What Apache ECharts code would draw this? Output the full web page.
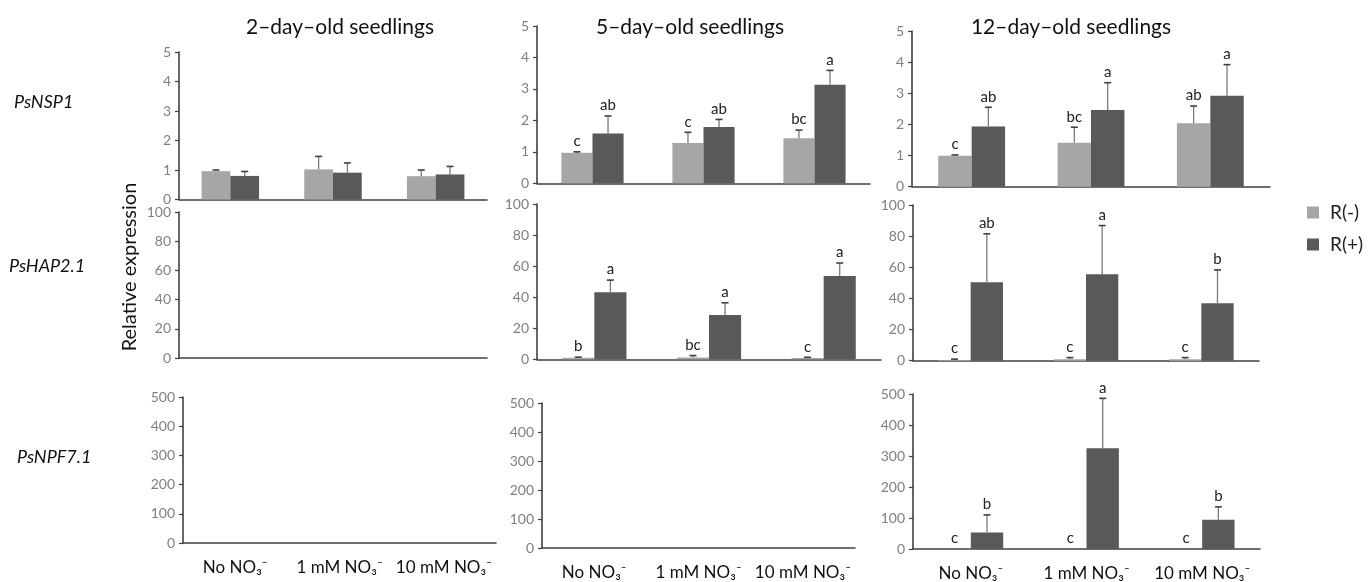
<!DOCTYPE html>
<html>
<head>
<meta charset="utf-8">
<script src="https://cdn.jsdelivr.net/npm/echarts@6/dist/echarts.min.js"></script>
<style>
  html, body { margin: 0; padding: 0; background: #fff; }
  #chart { width: 1369px; height: 582px; }
</style>
</head>
<body>
<div id="chart"></div>
<script>
// categories and legend
const categories = ['No NO₃⁻', '1 mM NO₃⁻', '10 mM NO₃⁻']
const seriesNames = ['R(-)', 'R(+)']
const ages = ['2–day–old seedlings', '5–day–old seedlings', '12–day–old seedlings']
const genes = ['PsNSP1', 'PsHAP2.1', 'PsNPF7.1']

// PsNSP1
const nsp1D2Neg = [0.96, 1.02, 0.79]
const nsp1D2NegErr = [0.04, 0.44, 0.21]
const nsp1D2Pos = [0.80, 0.91, 0.85]
const nsp1D2PosErr = [0.15, 0.33, 0.27]

const nsp1D5Neg = [0.97, 1.28, 1.43]
const nsp1D5NegErr = [0.03, 0.34, 0.26]
const nsp1D5Pos = [1.58, 1.79, 3.13]
const nsp1D5PosErr = [0.56, 0.24, 0.46]
const nsp1D5NegLetters = ['c', 'c', 'bc']
const nsp1D5PosLetters = ['ab', 'ab', 'a']

const nsp1D12Neg = [0.99, 1.41, 2.04]
const nsp1D12NegErr = [0.03, 0.50, 0.55]
const nsp1D12Pos = [1.93, 2.46, 2.92]
const nsp1D12PosErr = [0.62, 0.88, 1.0]
const nsp1D12NegLetters = ['c', 'bc', 'ab']
const nsp1D12PosLetters = ['ab', 'a', 'a']

// PsHAP2.1
const hapD5Neg = [1, 1.2, 0.9]
const hapD5NegErr = [0.4, 1.2, 0.4]
const hapD5Pos = [43.1, 28.5, 53.6]
const hapD5PosErr = [7.9, 7.9, 8.4]
const hapD5NegLetters = ['b', 'bc', 'c']
const hapD5PosLetters = ['a', 'a', 'a']

const hapD12Neg = [0.5, 1, 1]
const hapD12NegErr = [0.5, 1, 1]
const hapD12Pos = [50.4, 55.6, 36.9]
const hapD12PosErr = [31.1, 31.2, 21.4]
const hapD12NegLetters = ['c', 'c', 'c']
const hapD12PosLetters = ['ab', 'a', 'b']

// PsNPF7.1
const npfD12Neg = [0, 0, 0]
const npfD12NegErr = [0, 0, 0]
const npfD12Pos = [53.5, 325, 94.3]
const npfD12PosErr = [56.5, 161, 41.7]
const npfD12NegLetters = ['c', 'c', 'c']
const npfD12PosLetters = ['b', 'a', 'b']

const FONT = 'Lato, "Open Sans", sans-serif'
const GAP = 0.44
const AXIS_COLOR = '#404040'
const NEG_COLOR = '#a6a6a6'
const POS_COLOR = '#595959'

// one entry per panel: rect = [left, top, width, height]
const panels = [
  { rect: [179, 52, 308, 147.5], max: 5, interval: 1, neg: nsp1D2Neg, negErr: nsp1D2NegErr, pos: nsp1D2Pos, posErr: nsp1D2PosErr },
  { rect: [537, 26, 333, 157.3], max: 5, interval: 1, neg: nsp1D5Neg, negErr: nsp1D5NegErr, pos: nsp1D5Pos, posErr: nsp1D5PosErr, negLetters: nsp1D5NegLetters, posLetters: nsp1D5PosLetters },
  { rect: [912, 31, 358, 155.7], max: 5, interval: 1, neg: nsp1D12Neg, negErr: nsp1D12NegErr, pos: nsp1D12Pos, posErr: nsp1D12PosErr, negLetters: nsp1D12NegLetters, posLetters: nsp1D12PosLetters },
  { rect: [179, 212, 308, 146], max: 100, interval: 20 },
  { rect: [537, 204, 344, 155.3], max: 100, interval: 20, neg: hapD5Neg, negErr: hapD5NegErr, pos: hapD5Pos, posErr: hapD5PosErr, negLetters: hapD5NegLetters, posLetters: hapD5PosLetters },
  { rect: [913, 205, 346, 155.7], max: 100, interval: 20, neg: hapD12Neg, negErr: hapD12NegErr, pos: hapD12Pos, posErr: hapD12PosErr, negLetters: hapD12NegLetters, posLetters: hapD12PosLetters },
  { rect: [183, 397, 313, 146], max: 500, interval: 100, labels: true },
  { rect: [542, 403, 313, 145], max: 500, interval: 100, labels: true },
  { rect: [913, 394, 347, 155.3], max: 500, interval: 100, labels: true, neg: npfD12Neg, negErr: npfD12NegErr, pos: npfD12Pos, posErr: npfD12PosErr, negLetters: npfD12NegLetters, posLetters: npfD12PosLetters }
]

function errorRenderer(side, letters) {
  return function (params, api) {
    const k = api.value(0)
    const v = api.value(1)
    const e = api.value(2)
    const base = api.coord([k, v])
    const top = api.coord([k, v + e])
    const band = api.size([1, 0])[0]
    const barW = band * (1 - GAP) / 2
    const cx = base[0] + side * barW / 2
    const children = []
    if (e > 0) {
      children.push({ type: 'line', shape: { x1: cx, y1: base[1], x2: cx, y2: top[1] }, style: { stroke: '#7a7a7a', lineWidth: 1.3 } })
      children.push({ type: 'line', shape: { x1: cx - 3.5, y1: top[1], x2: cx + 3.5, y2: top[1] }, style: { stroke: '#404040', lineWidth: 1.6 } })
    }
    if (letters) {
      children.push({
        type: 'text', x: cx, y: top[1] - 3,
        style: { text: letters[params.dataIndex], fill: '#222', font: '15px ' + FONT, align: 'center', verticalAlign: 'bottom' }
      })
    }
    return { type: 'group', children }
  }
}

const series = []
panels.forEach((p, i) => {
  if (!p.neg) return
  series.push({
    name: seriesNames[0], type: 'bar', xAxisIndex: i, yAxisIndex: i, data: p.neg,
    itemStyle: { color: NEG_COLOR }, barGap: '0%', barCategoryGap: (GAP * 100) + '%', silent: true
  })
  series.push({
    name: seriesNames[1], type: 'bar', xAxisIndex: i, yAxisIndex: i, data: p.pos,
    itemStyle: { color: POS_COLOR }, barGap: '0%', barCategoryGap: (GAP * 100) + '%', silent: true
  })
  series.push({
    type: 'custom', xAxisIndex: i, yAxisIndex: i, z: 5, silent: true,
    data: p.neg.map((v, k) => [k, v, p.negErr[k]]),
    encode: { x: 0, y: 1 },
    renderItem: errorRenderer(-1, p.negLetters)
  })
  series.push({
    type: 'custom', xAxisIndex: i, yAxisIndex: i, z: 5, silent: true,
    data: p.pos.map((v, k) => [k, v, p.posErr[k]]),
    encode: { x: 0, y: 1 },
    renderItem: errorRenderer(1, p.posLetters)
  })
})

const titleFont = '21px ' + FONT
const geneFont = 'italic 18px ' + FONT
const graphic = [
  { type: 'text', x: 340, y: 27, style: { text: ages[0], font: titleFont, fill: '#111', align: 'center', verticalAlign: 'middle' } },
  { type: 'text', x: 690, y: 27, style: { text: ages[1], font: titleFont, fill: '#111', align: 'center', verticalAlign: 'middle' } },
  { type: 'text', x: 1071, y: 27, style: { text: ages[2], font: titleFont, fill: '#111', align: 'center', verticalAlign: 'middle' } },
  { type: 'text', x: 14, y: 102, style: { text: genes[0], font: geneFont, fill: '#111', align: 'left', verticalAlign: 'middle' } },
  { type: 'text', x: 9, y: 266, style: { text: genes[1], font: geneFont, fill: '#111', align: 'left', verticalAlign: 'middle' } },
  { type: 'text', x: 17, y: 457, style: { text: genes[2], font: geneFont, fill: '#111', align: 'left', verticalAlign: 'middle' } },
  { type: 'text', x: 130, y: 267, rotation: Math.PI / 2, style: { text: 'Relative expression', font: '20px ' + FONT, fill: '#111', align: 'center', verticalAlign: 'middle' } }
]

const chart = echarts.init(document.getElementById('chart'))
chart.setOption({
  animation: false,
  backgroundColor: '#fff',
  textStyle: { fontFamily: FONT },
  legend: {
    data: seriesNames,
    orient: 'vertical',
    left: 1302,
    top: 198,
    icon: 'rect',
    itemWidth: 12,
    itemHeight: 12,
    itemGap: 13,
    selectedMode: false,
    textStyle: { fontSize: 19, color: '#222', fontFamily: FONT, padding: [0, 0, 0, 6] }
  },
  grid: panels.map(p => ({ left: p.rect[0], top: p.rect[1], width: p.rect[2], height: p.rect[3] })),
  xAxis: panels.map((p, i) => ({
    type: 'category',
    gridIndex: i,
    data: categories,
    axisLine: { lineStyle: { color: AXIS_COLOR, width: 1.6 } },
    axisTick: { show: false },
    axisLabel: { show: !!p.labels, interval: 0, margin: 16, fontSize: 17, color: '#111', fontFamily: FONT }
  })),
  yAxis: panels.map((p, i) => ({
    type: 'value',
    gridIndex: i,
    min: 0,
    max: p.max,
    interval: p.interval,
    splitLine: { show: false },
    axisLine: { show: true, lineStyle: { color: AXIS_COLOR, width: 1.6 } },
    axisTick: { show: true, length: 4, lineStyle: { color: AXIS_COLOR, width: 1.2 } },
    axisLabel: { color: '#808080', fontSize: 14, margin: 8, fontFamily: FONT }
  })),
  series,
  graphic
})
</script>
</body>
</html>
